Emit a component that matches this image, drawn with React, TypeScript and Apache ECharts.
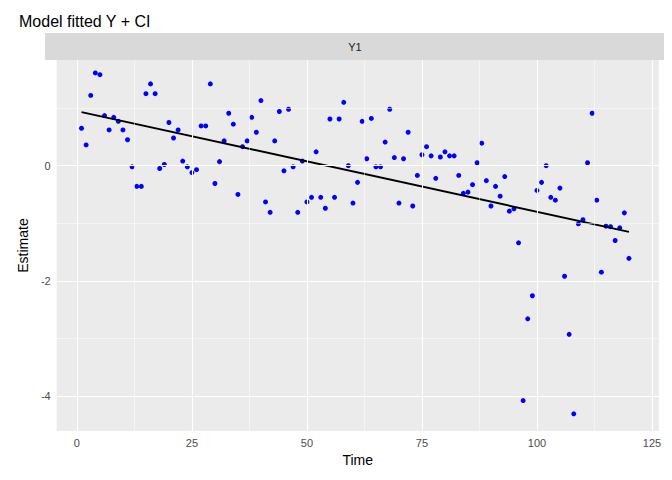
import { useEffect, useRef } from "react";
import * as echarts from "echarts";

const estimates = [
  0.65, 0.36, 1.22, 1.61, 1.58, 0.87, 0.62, 0.84, 0.77, 0.62,
  0.45, -0.02, -0.36, -0.36, 1.25, 1.42, 1.25, -0.05, 0.02, 0.75,
  0.48, 0.62, 0.08, -0.02, -0.12, -0.07, 0.69, 0.69, 1.42, -0.31,
  0.07, 0.43, 0.91, 0.72, -0.5, 0.33, 0.43, 0.84, 0.58, 1.13,
  -0.63, -0.81, 0.43, 0.94, -0.09, 0.98, -0.02, -0.81, 0.08, -0.63,
  -0.55, 0.24, -0.55, -0.74, 0.81, -0.55, 0.81, 1.1, 0, -0.65,
  -0.29, 0.77, 0.12, 0.82, -0.02, -0.02, 0.41, 0.98, 0.14, -0.65,
  0.12, 0.58, -0.7, -0.17, 0.19, 0.33, 0.17, -0.22, 0.15, 0.24,
  0.17, 0.17, -0.17, -0.48, -0.46, -0.33, 0.05, 0.39, -0.26, -0.7,
  -0.36, -0.53, -0.19, -0.79, -0.75, -1.34, -4.08, -2.66, -2.26, -0.43,
  -0.29, 0, -0.55, -0.6, -0.39, -1.92, -2.93, -4.31, -1.01, -0.94,
  0.05, 0.91, -0.6, -1.85, -1.05, -1.06, -1.3, -1.08, -0.82, -1.61,
];
const fitTimes = [1, 120];
const fitValues = [0.93, -1.15];
const xTicks = [0, 25, 50, 75, 100, 125];
const xMinor = [12.5, 37.5, 62.5, 87.5, 112.5];
const yTicks = [-4, -2, 0];
const yMinor = [-3, -1, 1];

export default function App() {
  const ref = useRef<HTMLDivElement>(null);
  useEffect(() => {
    if (!ref.current) return;
    const chart = echarts.init(ref.current, null, { renderer: "svg" });
    const gridLine = (w: number) => ({ color: "#FFFFFF", width: w, type: "solid" as const });
    const markData = [
      ...xTicks.map((v) => ({ xAxis: v, lineStyle: gridLine(1.1) })),
      ...xMinor.map((v) => ({ xAxis: v, lineStyle: gridLine(0.5) })),
      ...yTicks.map((v) => ({ yAxis: v, lineStyle: gridLine(1.1) })),
      ...yMinor.map((v) => ({ yAxis: v, lineStyle: gridLine(0.5) })),
    ];
    const axisCommon = {
      splitLine: { show: false },
      axisLine: { show: false },
      axisTick: { show: true, length: 3, lineStyle: { color: "#333333" } },
      axisLabel: { color: "#4D4D4D", fontSize: 11, fontFamily: "Liberation Sans" },
      nameTextStyle: { color: "#000000", fontSize: 14, fontFamily: "Liberation Sans" },
    };
    chart.setOption({
      animation: false,
      grid: {
        left: 37, right: 0, top: 52, bottom: 36, show: true,
        backgroundColor: "#EBEBEB", borderWidth: 0,
      },
      title: {
        text: "Model fitted Y + CI", left: 6, top: 0,
        textStyle: { fontSize: 16, fontWeight: "normal", color: "#000", fontFamily: "Liberation Sans" },
      },
      graphic: [
        { type: "rect", shape: { x: 37, y: 25, width: 620, height: 27 }, style: { fill: "#D9D9D9" } },
        {
          type: "text", x: 347, y: 39,
          style: { text: "Y1", fill: "#1A1A1A", fontSize: 11, fontFamily: "Liberation Sans", align: "center", verticalAlign: "middle" },
        },
      ],
      xAxis: {
        type: "value", min: -4.4, max: 126.5, ...axisCommon,
        name: "Time", nameLocation: "middle", nameGap: 21,
        axisLabel: { ...axisCommon.axisLabel, customValues: xTicks, margin: 6 },
        axisTick: { ...axisCommon.axisTick, customValues: xTicks },
      },
      yAxis: {
        type: "value", min: -4.61, max: 1.835, ...axisCommon,
        name: "Estimate", nameLocation: "middle", nameGap: 24,
        axisLabel: { ...axisCommon.axisLabel, customValues: yTicks, margin: 6 },
        axisTick: { ...axisCommon.axisTick, customValues: yTicks },
      },
      series: [
        {
          type: "line", data: [], silent: true,
          markLine: { silent: true, symbol: "none", label: { show: false }, data: markData },
        },
        {
          type: "scatter", symbolSize: 5, itemStyle: { color: "#0000FF", opacity: 1 },
          data: estimates.map((v, i) => [i + 1, v]), z: 3,
        },
        {
          type: "line", symbol: "none", lineStyle: { color: "#000000", width: 2 },
          data: fitTimes.map((t, i) => [t, fitValues[i]]), z: 4,
        },
      ],
    });
    return () => chart.dispose();
  }, []);
  return <div ref={ref} style={{ width: 656, height: 464, background: "#fff" }} />;
}
